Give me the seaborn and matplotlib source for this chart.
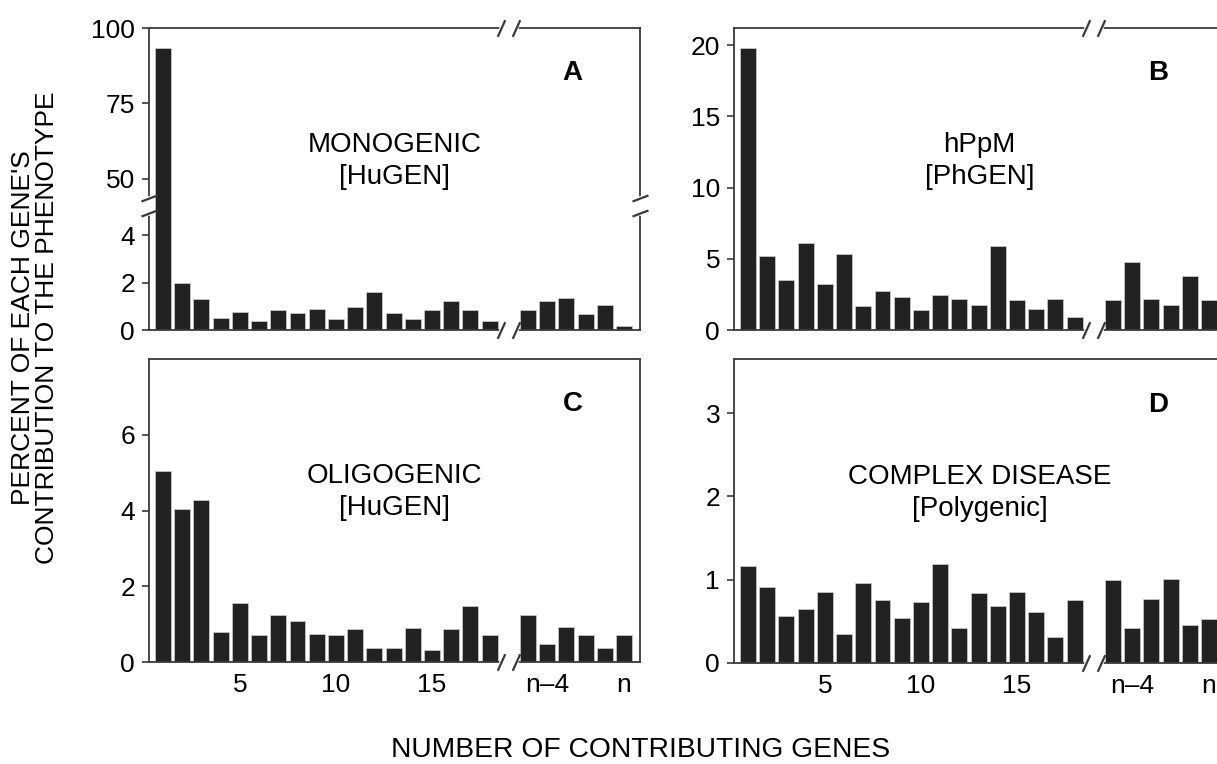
import numpy as np
import pandas as pd
import seaborn as sns
import matplotlib.pyplot as plt
from matplotlib.path import Path

# gene positions: 1..18, a broken gap at 19, then n-5..n as 20..25
genes = list(range(1, 19)) + list(range(20, 26))
tick_pos = [5, 10, 15, 21, 25]
tick_labels = ['5', '10', '15', 'n\u20134', 'n']

mono = [93.5, 1.97, 1.29, 0.50, 0.77, 0.38, 0.84, 0.70, 0.88, 0.45, 0.97, 1.61,
        0.70, 0.45, 0.83, 1.22, 0.84, 0.38, 0.83, 1.21, 1.34, 0.69, 1.07, 0.18]
hppm = [19.8, 5.22, 3.50, 6.08, 3.26, 5.34, 1.68, 2.77, 2.31, 1.38, 2.49, 2.19,
        1.79, 5.90, 2.14, 1.45, 2.19, 0.93, 2.14, 4.78, 2.19, 1.79, 3.80, 2.14]
oligo = [5.04, 4.04, 4.29, 0.79, 1.56, 0.72, 1.25, 1.09, 0.74, 0.70, 0.87, 0.37,
         0.37, 0.89, 0.31, 0.87, 1.49, 0.72, 1.25, 0.47, 0.93, 0.72, 0.38, 0.72]
poly = [1.17, 0.91, 0.57, 0.65, 0.85, 0.35, 0.96, 0.76, 0.54, 0.73, 1.19, 0.42,
        0.84, 0.69, 0.85, 0.61, 0.31, 0.76, 1.00, 0.42, 0.77, 1.01, 0.46, 0.53]

sns.set_style('white')
plt.rcParams['font.family'] = ['Liberation Sans', 'DejaVu Sans']
plt.rcParams['text.color'] = 'black'
plt.rcParams['xtick.labelcolor'] = 'black'
plt.rcParams['ytick.labelcolor'] = 'black'

BAR = '#222222'
LINE = '#3a3a3a'
W, H = 1217, 764

fig = plt.figure(figsize=(W / 100, H / 100), dpi=100)


def box(left, top, bottom, width=491):
    return [left / W, 1 - bottom / H, width / W, (bottom - top) / H]


axA = fig.add_axes(box(149, 28, 330))
axB = fig.add_axes(box(734, 28, 330))
axC = fig.add_axes(box(149, 359, 662))
axD = fig.add_axes(box(734, 359, 663))

slash_x = Path([(-0.45, -1), (0.45, 1)], [Path.MOVETO, Path.LINETO])
slash_y = Path([(-1, -0.38), (1, 0.38)], [Path.MOVETO, Path.LINETO])


def bars(ax, values):
    df = pd.DataFrame({'gene': genes, 'pct': values})
    sns.barplot(data=df, x='gene', y='pct', native_scale=True, width=0.83,
                color=BAR, saturation=1, errorbar=None,
                edgecolor='#cfcfcf', linewidth=0.5, ax=ax)


def style(ax, bottom_row, yticks):
    ax.set_xlim(0.27, 25.83)
    ax.set_xlabel('')
    ax.set_ylabel('')
    for s in ax.spines.values():
        s.set_visible(True)
        s.set_color(LINE)
        s.set_linewidth(1.3)
    ax.set_yticks(yticks)
    ax.tick_params(axis='y', left=True, direction='out', length=5, width=1.2,
                   color=LINE, labelsize=19, pad=5)
    if bottom_row:
        ax.set_xticks(tick_pos)
        ax.set_xticklabels(tick_labels)
        ax.tick_params(axis='x', length=0, labelsize=19, pad=8)
    else:
        ax.set_xticks([])


def x_break(ax, sides):
    tr = ax.get_xaxis_transform()
    for yy in sides:
        ax.plot([18.6, 19.4], [yy, yy], color='white', lw=3.5, transform=tr,
                clip_on=False, zorder=5)
        ax.plot([18.6, 19.4], [yy, yy], ls='none', marker=slash_x, ms=12,
                mec=LINE, mew=1.6, transform=tr, clip_on=False, zorder=6)


def labels(ax, letter, title):
    ax.text(0.863, 0.85, letter, transform=ax.transAxes, ha='center', va='center',
            fontsize=20, fontweight='bold')
    ax.text(0.5, 0.56, title, transform=ax.transAxes, ha='center', va='center',
            fontsize=20, linespacing=1.3)


# panel A: broken y axis
brk_lo, brk_hi = 4.93, 43.7
knots_v = np.array([-100, 0, brk_lo, brk_hi, 100, 200])
knots_p = np.array([-100 * 117 / brk_lo, 0, 117, 132, 302, 302 + 100 * 170 / 56.3])


def fwd(v):
    return np.interp(v, knots_v, knots_p)


def inv(p):
    return np.interp(p, knots_p, knots_v)


bars(axA, mono)
axA.set_yscale('function', functions=(fwd, inv))
axA.set_ylim(0, 100)
style(axA, False, [0, 2, 4, 50, 75, 100])
x_break(axA, [0, 1])
tr = axA.get_yaxis_transform()
for xx in (0, 1):
    axA.plot([xx, xx], [brk_lo, brk_hi], color='white', lw=3.5, transform=tr,
             clip_on=False, zorder=5)
    axA.plot([xx, xx], [brk_lo, brk_hi], ls='none', marker=slash_y, ms=11.5,
             mec=LINE, mew=1.6, transform=tr, clip_on=False, zorder=6)
labels(axA, 'A', 'MONOGENIC\n[HuGEN]')

bars(axB, hppm)
axB.set_ylim(0, 21.2)
style(axB, False, [0, 5, 10, 15, 20])
x_break(axB, [0, 1])
labels(axB, 'B', 'hPpM\n[PhGEN]')

bars(axC, oligo)
axC.set_ylim(0, 8.0)
style(axC, True, [0, 2, 4, 6])
x_break(axC, [0])
labels(axC, 'C', 'OLIGOGENIC\n[HuGEN]')

bars(axD, poly)
axD.set_ylim(0, 3.65)
style(axD, True, [0, 1, 2, 3])
x_break(axD, [0])
labels(axD, 'D', 'COMPLEX DISEASE\n[Polygenic]')

fig.text(35 / W, 1 - 328 / H, "PERCENT OF EACH GENE'S\nCONTRIBUTION TO THE PHENOTYPE",
         rotation=90, ha='center', va='center', fontsize=19, linespacing=1.05)
fig.text(641 / W, 1 - 750 / H, 'NUMBER OF CONTRIBUTING GENES',
         ha='center', va='center', fontsize=20.3)

fig.savefig('out.png', dpi=100)
